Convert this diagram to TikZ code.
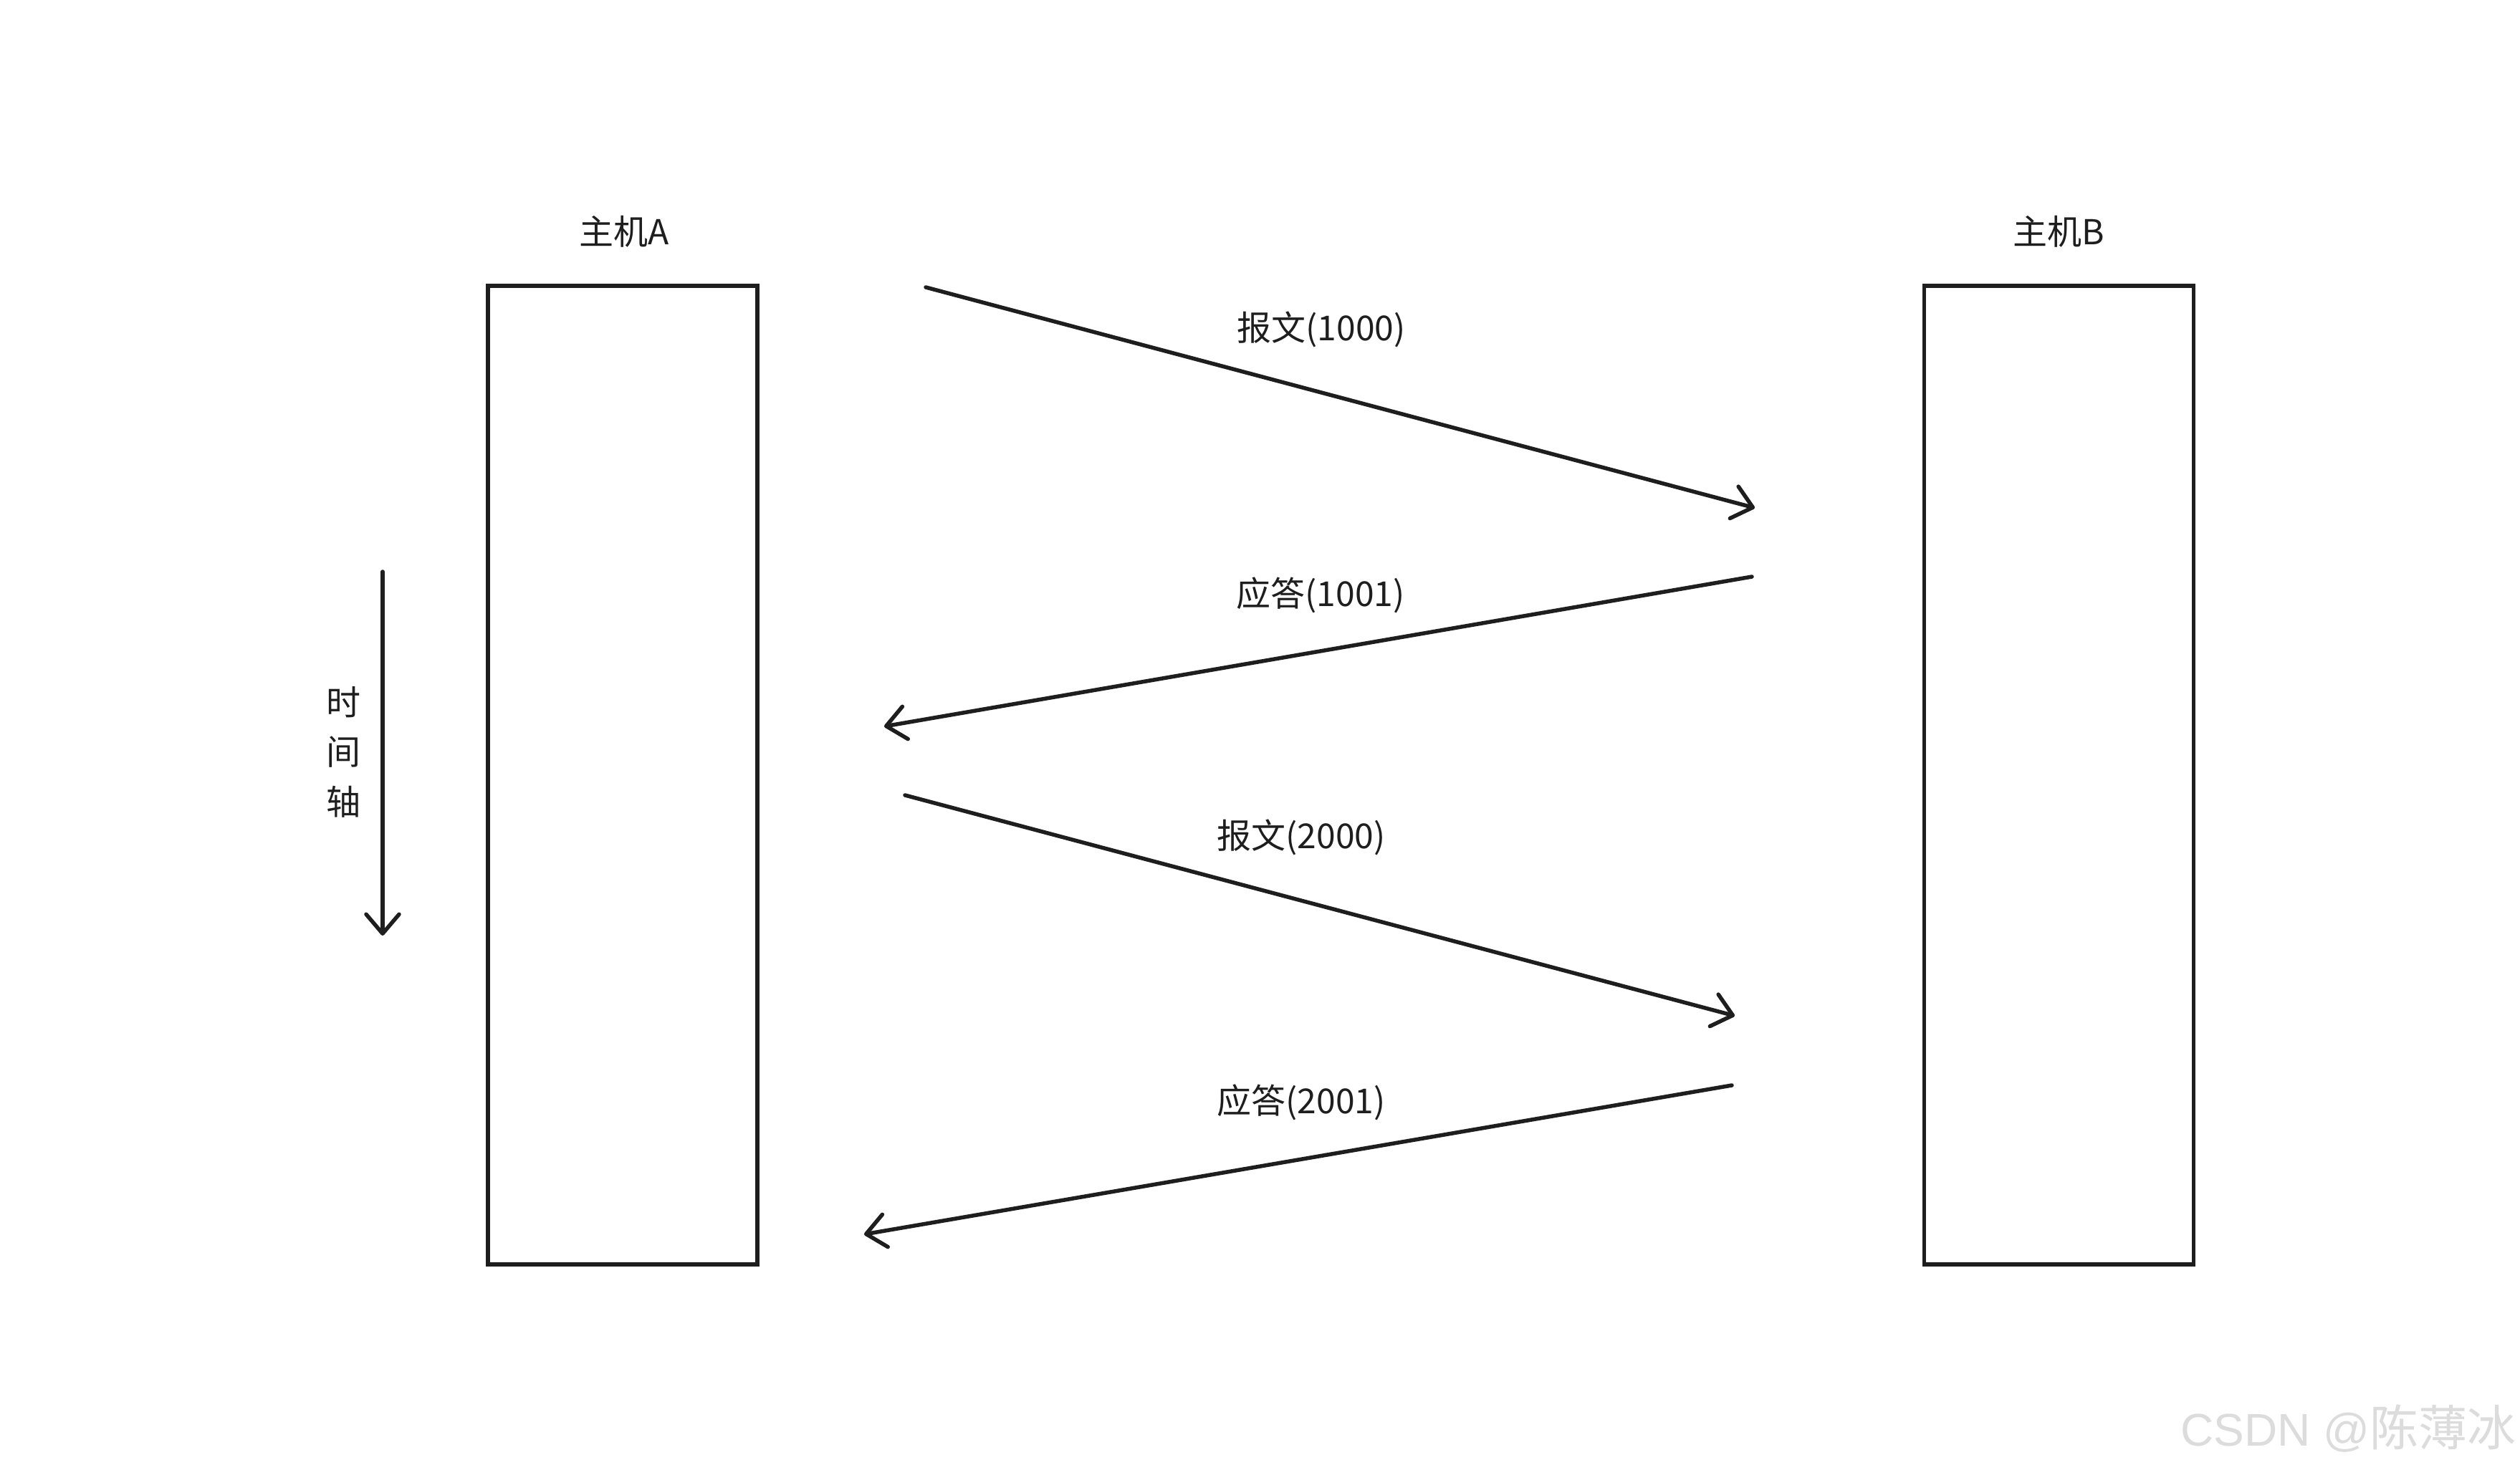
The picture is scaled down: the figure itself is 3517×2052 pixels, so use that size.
\documentclass[tikz,border=0pt]{standalone}
\usepackage{fontspec}
\setmainfont{Noto Sans CJK SC}
\newfontfamily\wmlat{Liberation Sans}
\newfontfamily\wmcjk{Noto Sans CJK SC}
\usetikzlibrary{arrows.meta}
\definecolor{ink}{HTML}{1E1E1E}
\definecolor{wm}{HTML}{DCDCDC}
\begin{document}
\begin{tikzpicture}[x=1pt,y=-1pt,
  host/.style={draw=ink,line width=5.5pt,minimum width=376pt,minimum height=1366pt,inner sep=0pt},
  lbl/.style={text=ink,font=\fontsize{48}{58}\selectfont,inner sep=0pt},
  msg/.style={draw=ink,line width=5.5pt,line cap=round,-{Straight Barb[length=27pt,width=46pt,round]}}
]
\useasboundingbox (0,0) rectangle (3517,2052);
\fill[white] (0,0) rectangle (3517,2052);
% hosts
\node[host] (A) at (869,1082) {};
\node[host] (B) at (2873.5,1082) {};
\node[lbl] (la) at (871,323) {主机A};
\node[lbl] (lb) at (2873,323) {主机B};
% messages
\coordinate (m1s) at (1292,401);  \coordinate (m1e) at (2449,709);
\coordinate (m2s) at (2445,805);  \coordinate (m2e) at (1234,1014);
\coordinate (m3s) at (1263,1110); \coordinate (m3e) at (2421,1418);
\coordinate (m4s) at (2417,1515); \coordinate (m4e) at (1206,1723);
\draw[msg] (m1s) -- (m1e);
\draw[msg] (m2s) -- (m2e);
\draw[msg] (m3s) -- (m3e);
\draw[msg] (m4s) -- (m4e);
\node[lbl] (l1) at (1844,460) {报文(1000)};
\node[lbl] (l2) at (1843,831) {应答(1001)};
\node[lbl] (l3) at (1816,1169) {报文(2000)};
\node[lbl] (l4) at (1816,1539) {应答(2001)};
% time axis
\coordinate (t1) at (534,798); \coordinate (t2) at (534,1306);
\draw[msg] (t1) -- (t2);
\node[lbl] (s1) at (479,980) {时};
\node[lbl] (s2) at (479,1050) {间};
\node[lbl] (s3) at (479,1119) {轴};
% watermark
\node[anchor=base east,inner sep=0pt,text=wm] (wmk) at (3512,2018)
  {{\wmlat\fontsize{64}{70}\selectfont CSDN @}{\wmcjk\fontsize{68}{70}\selectfont 陈薄冰}};
\end{tikzpicture}
\end{document}
